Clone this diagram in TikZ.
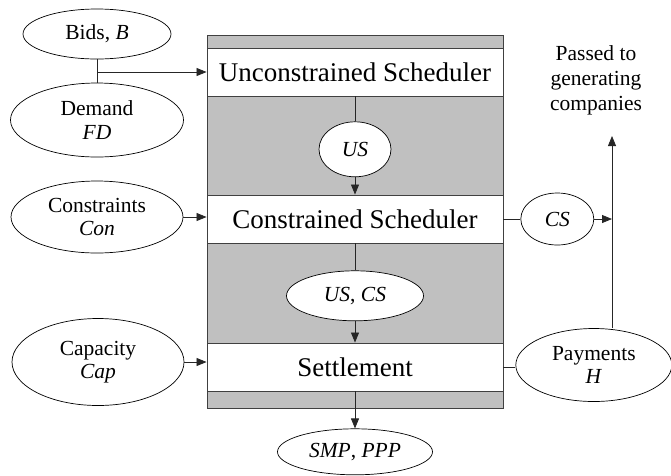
\documentclass[tikz,border=0pt]{standalone}
\usepackage{fontspec}
\setmainfont{Liberation Serif}
\usetikzlibrary{positioning,arrows.meta,shapes.geometric}
\definecolor{panel}{RGB}{192,192,192}

\begin{document}
\begin{tikzpicture}[x=1pt,y=-1pt,>={Triangle[length=10pt,width=8pt]},
  blk/.style={rectangle,draw=black!75,line width=0.9pt,fill=white,minimum width=296pt,minimum height=48pt,inner sep=0pt,font=\fontsize{27}{30}\selectfont},
  ell/.style={ellipse,draw=black,line width=0.7pt,fill=white,align=center,inner sep=0pt,font=\fontsize{21.5}{23.5}\selectfont},
  ar/.style={->,line width=0.8pt,black!85},
  ln/.style={line width=0.8pt,black!85}]
\useasboundingbox (0,0) rectangle (671,475);
\draw[draw=black!75,line width=1pt,fill=panel] (207,35) rectangle (503,408);
% scheduler column
\node[blk](usch) at (355,72){Unconstrained Scheduler};
\node[blk](csch) at (355,219){Constrained Scheduler};
\node[blk](sett) at (355,367){Settlement};
\node[ell,minimum width=72pt,minimum height=55pt,below=25pt of usch](us){\textit{US}};
\node[ell,minimum width=137pt,minimum height=50pt,below=27pt of csch](uscs){\textit{US}, \textit{CS}};
\node[ell,minimum width=155pt,minimum height=46pt,below=37pt of sett](smp){\textit{SMP}, \textit{PPP}};
% inputs
\node[ell,minimum width=148pt,minimum height=50pt](bids) at (97,34){Bids, \textit{B}};
\node[ell,minimum width=173pt,minimum height=74pt](dem) at (97,120){Demand\\\textit{FD}};
\node[ell,minimum width=172pt,minimum height=72pt](con) at (97,217){Constraints\\\textit{Con}};
\node[ell,minimum width=172pt,minimum height=87pt](cap) at (98,362){Capacity\\\textit{Cap}};
% outputs
\node[ell,minimum width=73pt,minimum height=52pt,right=17pt of csch](cs){\textit{CS}};
\node[ell,minimum width=156pt,minimum height=73pt,right=12pt of sett,yshift=2pt](pay){Payments\\\textit{H}};
\node[align=center,inner sep=0pt,font=\fontsize{21.5}{25}\selectfont](pass) at (596,80){Passed to\\generating\\companies};
\coordinate (up) at (612,136);
\draw[ln](bids.south)--(dem.north);
\draw[ar](bids.south |- usch.west)--(usch.west);
\draw[ar](con.east)--(con.east -| csch.west);
\draw[ar](cap.east)--(cap.east -| sett.west);
\draw[ln](usch.south)--(us.north);\draw[ar](us.south)--(csch.north);
\draw[ln](csch.south)--(uscs.north);\draw[ar](uscs.south)--(sett.north);
\draw[ar](sett.south)--(smp.north);
\draw[ln](csch.east)--(cs.west);\draw[ar](cs.east)--(cs.east -| up);
\draw[ln](sett.east)--(sett.east -| pay.west);
\draw[ar](pay.north -| up)--(up);
\end{tikzpicture}
\end{document}
